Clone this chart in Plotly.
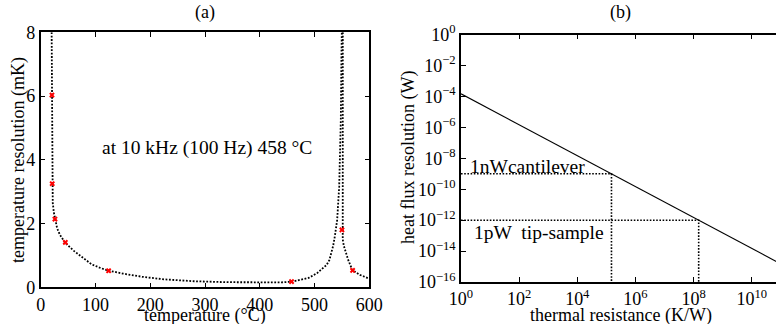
import plotly.graph_objects as go

# ---------------- data: panel (a) ----------------
temp_curve = [20.0, 20.3, 20.5, 20.8, 21.1, 22.0, 24.0, 26.0, 30.0, 35.0, 44.0, 60.0, 75.0,
              93.0, 110.0, 125.0, 150.0, 185.0, 225.0, 280.0, 340.0, 400.0, 440.0, 460.0,
              475.0, 490.0, 505.0, 515.0, 522.0, 527.0, 531.0, 534.0, 537.0, 541.3, 545.0,
              546.8, 548.0, 549.2, 549.8, None,
              551.6, 551.2, 550.7, 550.3, 550.2, 551.5, 553.5, 556.5, 561.0, 569.0, 583.0, 600.0]
res_curve = [8.0, 7.0, 6.0, 4.5, 3.3, 2.65, 2.35, 2.14, 1.85, 1.65, 1.41, 1.15, 0.96,
             0.72, 0.6, 0.52, 0.43, 0.33, 0.25, 0.19, 0.16, 0.15, 0.155, 0.18,
             0.23, 0.3, 0.45, 0.6, 0.7, 0.85, 1.07, 1.3, 1.59, 2.11, 3.15,
             4.2, 5.24, 7.33, 8.0, None,
             8.0, 5.5, 3.5, 2.4, 1.8, 1.5, 1.3, 1.1, 0.88, 0.54, 0.39, 0.27]
temp_marks = [20.5, 21.0, 26.0, 45.0, 124.0, 458.0, 550.0, 569.5]
res_marks = [6.03, 3.25, 2.14, 1.41, 0.52, 0.18, 1.80, 0.53]
a_xticks = [0, 100, 200, 300, 400, 500, 600]
a_yticks = [0, 2, 4, 6, 8]

# ---------------- data: panel (b) ----------------
R_line = [1.0, 1e11]
P_line = [1.5e-4, 1.5e-15]
R_cantilever, P_cantilever = 1.5e5, 1e-9
R_tip, P_tip = 1.5e8, 1e-12
P_floor = 1e-16
b_xticks = [1e0, 1e2, 1e4, 1e6, 1e8, 1e10]
b_xtext = ["10<sup>0</sup>", "10<sup>2</sup>", "10<sup>4</sup>", "10<sup>6</sup>",
           "10<sup>8</sup>", "10<sup>10</sup>"]
b_yticks = [1e0, 1e-2, 1e-4, 1e-6, 1e-8, 1e-10, 1e-12, 1e-14, 1e-16]
b_ytext = ["10<sup>0</sup>", "10<sup>\u22122</sup>", "10<sup>\u22124</sup>", "10<sup>\u22126</sup>",
           "10<sup>\u22128</sup>", "10<sup>\u221210</sup>", "10<sup>\u221212</sup>",
           "10<sup>\u221214</sup>", "10<sup>\u221216</sup>"]

W, H = 776, 324
FONT = "Liberation Serif"

def fx(p):
    return p / W

def fy(p):
    return 1 - p / H

fig = go.Figure()

fig.add_trace(go.Scatter(x=temp_curve, y=res_curve, mode="lines",
                         line=dict(color="black", width=1.8, dash="1.8px,1.6px"),
                         connectgaps=False, xaxis="x", yaxis="y", showlegend=False))
fig.add_trace(go.Scatter(x=temp_marks, y=res_marks, mode="markers",
                         marker=dict(symbol="x", size=5, color="red"),
                         xaxis="x", yaxis="y", showlegend=False))

fig.add_trace(go.Scatter(x=R_line, y=P_line, mode="lines",
                         line=dict(color="black", width=1.1),
                         xaxis="x2", yaxis="y2", showlegend=False))
fig.add_trace(go.Scatter(x=[R_line[0], R_cantilever, R_cantilever],
                         y=[P_cantilever, P_cantilever, P_floor], mode="lines",
                         line=dict(color="black", width=1.6, dash="1.6px,1.6px"),
                         xaxis="x2", yaxis="y2", showlegend=False))
fig.add_trace(go.Scatter(x=[R_line[0], R_tip, R_tip],
                         y=[P_tip, P_tip, P_floor], mode="lines",
                         line=dict(color="black", width=1.6, dash="1.6px,1.6px"),
                         xaxis="x2", yaxis="y2", showlegend=False))

axis_common = dict(showgrid=False, zeroline=False, showline=True, linecolor="black",
                   linewidth=1.5, ticks="inside", ticklen=5, tickwidth=1, tickcolor="black",
                   tickfont=dict(family=FONT, size=18, color="black"), automargin=False)

fig.update_layout(
    width=W, height=H, margin=dict(l=0, r=0, t=0, b=0),
    paper_bgcolor="white", plot_bgcolor="white",
    font=dict(family=FONT, size=18, color="black"),
    xaxis=dict(domain=[fx(40.7), fx(369.3)], range=[0, 600], tickvals=a_xticks,
               mirror="ticks", anchor="y", **axis_common),
    yaxis=dict(domain=[fy(287.3), fy(32.3)], range=[0, 8], tickvals=a_yticks,
               mirror="ticks", anchor="x", **axis_common),
    xaxis2=dict(domain=[fx(461), 1.0], type="log", range=[0, (776 - 461) / 29.07],
                tickvals=b_xticks, ticktext=b_xtext, mirror="ticks", anchor="y2", **axis_common),
    yaxis2=dict(domain=[fy(282), fy(34.7)], type="log", range=[-16, 0],
                tickvals=b_yticks, ticktext=b_ytext, mirror=False, anchor="x2", **axis_common),
    yaxis3=dict(overlaying="y2", anchor="free", position=1.0, side="right", type="log",
                range=[-16, 0], tickvals=b_yticks, showticklabels=False, showline=False,
                showgrid=False, zeroline=False, ticks="inside", ticklen=3,
                tickcolor="black", tickwidth=1),
)

ann = []
def txt(text, x, y, size=18, **kw):
    d = dict(text=text, x=x, y=y, xref="paper", yref="paper", showarrow=False,
             xanchor="center", yanchor="middle",
             font=dict(family=FONT, size=size, color="black"))
    d.update(kw)
    ann.append(d)

txt("(a)", fx(205), fy(13))
txt("(b)", fx(620), fy(13))
txt("temperature (\u00b0C)", fx(205), fy(315))
txt("thermal resistance (K/W)", fx(621), fy(315))
txt("temperature resolution (mK)", fx(18), fy(160), textangle=-90)
txt("heat flux resolution (W)", fx(409), fy(158), textangle=-90)

ann.append(dict(text="at 10 kHz (100 Hz) 458 \u00b0C", x=304, y=4.37, xref="x", yref="y",
                xanchor="center", yanchor="middle",
                showarrow=False, font=dict(family=FONT, size=19.5, color="black")))
ann.append(dict(text="1nWcantilever", x=0.24, y=-8.5, xref="x2", yref="y2", xanchor="left",
                yanchor="middle",
                showarrow=False, font=dict(family=FONT, size=19.5, color="black")))
ann.append(dict(text="1pW \u00a0tip-sample", x=0.38, y=-12.78, xref="x2", yref="y2",
                xanchor="left", yanchor="middle", showarrow=False,
                font=dict(family=FONT, size=19.5, color="black")))
fig.update_layout(annotations=ann)

fig.write_html("out.html", post_script="document.body.style.margin='0';",
               config={"displayModeBar": False})
